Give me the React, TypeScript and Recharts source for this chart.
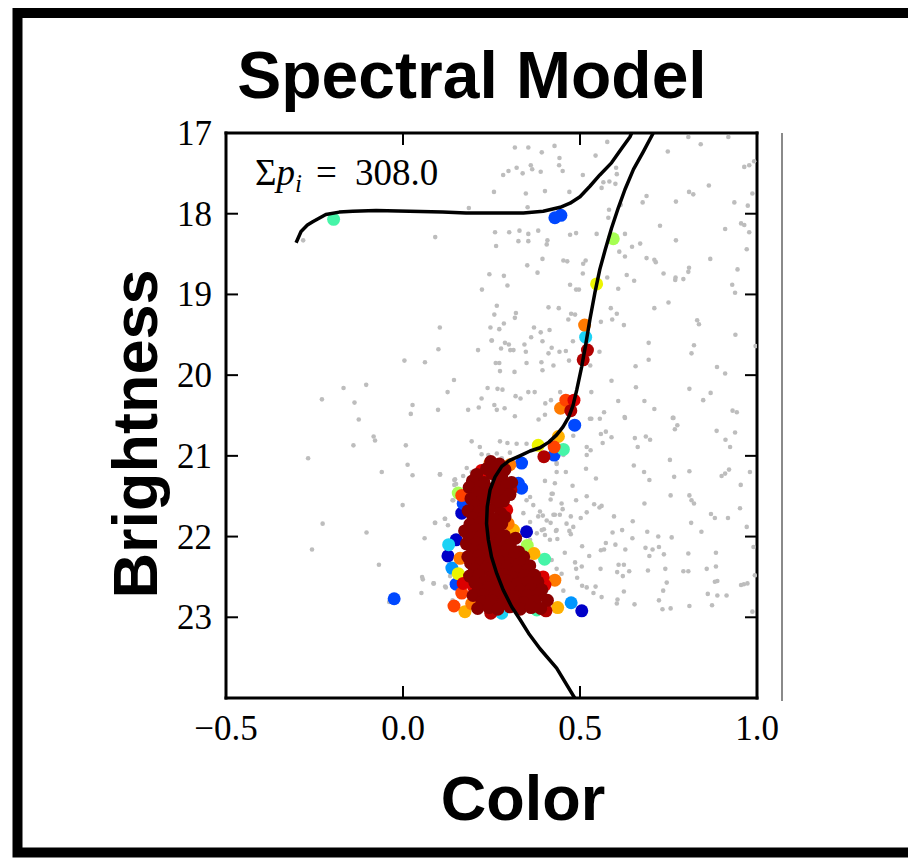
import { ScatterChart, Scatter, XAxis, YAxis } from 'recharts';

// axis ticks
const X_TICKS = [-0.5, 0, 0.5, 1.0];
const Y_TICKS = [17, 18, 19, 20, 21, 22, 23, 24];
const Y_LABELED = [17, 18, 19, 20, 21, 22, 23];

// [color, magnitude]
const FIELD_STARS: [number, number][] = [
  [0.186, 17.93], [0.091, 18.29], [-0.282, 18.33], [0.244, 18.75], [0.223, 18.94], [0.104, 19.41],
  [0.247, 19.41], [0.251, 19.57], [0.100, 19.68], [0.212, 19.69], [0.004, 19.82], [0.062, 19.84],
  [0.144, 20.06], [-0.168, 20.16], [-0.104, 20.12], [0.126, 20.21], [0.239, 20.16], [-0.229, 20.30],
  [-0.137, 20.34], [0.222, 20.29], [0.027, 20.37], [0.022, 20.48], [0.099, 20.43], [0.184, 20.43],
  [0.214, 20.40], [-0.125, 20.55], [0.258, 20.37],
  [0.316, 17.18], [0.354, 17.18], [0.428, 17.16], [0.392, 17.24], [0.577, 17.11], [0.544, 17.28],
  [0.442, 17.31], [0.748, 17.23], [0.841, 17.14], [0.806, 17.05], [0.919, 17.05], [0.283, 17.52],
  [0.298, 17.47], [0.321, 17.43], [0.338, 17.50], [0.361, 17.40], [0.365, 17.45], [0.389, 17.48],
  [0.441, 17.40], [0.451, 17.47], [0.508, 17.52], [0.566, 17.61], [0.583, 17.60], [0.600, 17.63],
  [0.602, 17.43], [0.604, 17.51], [0.561, 17.68], [0.257, 17.73], [0.347, 17.75], [0.401, 17.72],
  [0.470, 17.73], [0.352, 17.92], [0.688, 17.78], [0.677, 17.86], [0.615, 17.89], [0.582, 17.95],
  [0.580, 18.05], [0.808, 17.73], [0.820, 17.76], [0.864, 17.65], [0.771, 17.85], [0.936, 17.86],
  [0.987, 17.75], [0.974, 17.90], [0.978, 17.40], [0.964, 17.42], [0.992, 17.35],
  [0.260, 18.23], [0.300, 18.23], [0.329, 18.21], [0.354, 18.25], [0.382, 18.21], [0.326, 18.34],
  [0.354, 18.34], [0.408, 18.33], [0.406, 18.38], [0.263, 18.40], [0.472, 18.26], [0.489, 18.24],
  [0.547, 18.25], [0.627, 18.25], [0.611, 18.47], [0.627, 18.53], [0.647, 18.41], [0.670, 18.37],
  [0.688, 18.55], [0.710, 18.57], [0.714, 18.60], [0.771, 18.33], [0.726, 18.15], [0.910, 18.19],
  [0.955, 18.12], [0.964, 18.14], [0.978, 18.23], [0.971, 18.44], [0.868, 18.56], [0.808, 18.67],
  [0.806, 18.72], [0.770, 18.79], [0.769, 18.82], [0.792, 18.81], [0.736, 18.74], [0.632, 18.76],
  [0.653, 18.83], [0.608, 18.93], [0.577, 18.79], [0.394, 18.56], [0.453, 18.58], [0.464, 18.59],
  [0.509, 18.62], [0.516, 18.58], [0.351, 18.64], [0.380, 18.73], [0.285, 18.77], [0.295, 18.89],
  [0.472, 18.88], [0.489, 18.94], [0.497, 18.94], [0.508, 18.74], [0.945, 18.69], [0.930, 18.88],
  [0.938, 18.98],
  [0.265, 19.14], [0.258, 19.25], [0.319, 19.23], [0.316, 19.29], [0.285, 19.36], [0.272, 19.43],
  [0.411, 19.16], [0.440, 19.17], [0.475, 19.24], [0.467, 19.31], [0.486, 19.25], [0.559, 19.34],
  [0.587, 19.17], [0.604, 19.24], [0.624, 19.38], [0.591, 19.31], [0.370, 19.41], [0.389, 19.47],
  [0.414, 19.44], [0.362, 19.53], [0.343, 19.62], [0.299, 19.62], [0.288, 19.60], [0.303, 19.69],
  [0.312, 19.69], [0.277, 19.67], [0.347, 19.71], [0.250, 19.57], [0.394, 19.58], [0.420, 19.66],
  [0.411, 19.73], [0.442, 19.71], [0.460, 19.70], [0.480, 19.58], [0.469, 19.82], [0.391, 19.84],
  [0.425, 19.88], [0.394, 19.94], [0.262, 19.85], [0.272, 19.85], [0.349, 19.85], [0.315, 19.96],
  [0.274, 19.95], [0.555, 19.71], [0.529, 19.88], [0.589, 20.07], [0.657, 19.89], [0.694, 19.60],
  [0.694, 19.81], [0.710, 19.17], [0.750, 19.10], [0.822, 19.63], [0.815, 19.73], [0.831, 19.32],
  [0.836, 19.37], [0.887, 19.90], [0.910, 19.98], [0.939, 19.50], [0.996, 19.64], [0.809, 20.17],
  [0.658, 20.15], [0.608, 20.32], [0.532, 20.21], [0.444, 20.21], [0.372, 20.21], [0.354, 20.21],
  [0.418, 20.31], [0.402, 20.35], [0.383, 20.55], [0.318, 20.26], [0.332, 20.29], [0.281, 20.18],
  [0.267, 20.17], [0.265, 20.43], [0.287, 20.41], [0.316, 20.51], [0.401, 20.49], [0.568, 20.46],
  [0.626, 20.52], [0.532, 20.54], [0.556, 20.54], [0.682, 20.32], [0.710, 20.42], [0.762, 20.53],
  [0.848, 20.31], [0.869, 20.22], [0.931, 20.44], [0.943, 20.46],
  [-0.083, 20.76], [-0.079, 20.81], [-0.140, 20.87], [0.008, 20.87], [-0.268, 21.03], [0.013, 21.11],
  [-0.060, 21.20], [0.027, 21.24], [0.104, 21.23], [0.145, 21.30], [0.145, 21.36], [0.140, 21.55],
  [-0.001, 21.61], [-0.227, 21.84], [-0.103, 21.95], [0.091, 21.83], [0.118, 21.78], [0.127, 21.86],
  [0.061, 22.02], [-0.257, 22.16], [-0.068, 22.35], [0.054, 22.50], [0.056, 22.53], [0.087, 22.58],
  [0.121, 22.63], [0.052, 22.70], [0.133, 22.49], [0.140, 22.79], [-0.039, 22.81],
  [0.528, 20.54], [0.627, 20.53], [0.764, 20.53], [0.768, 20.67], [0.775, 20.62], [0.886, 20.69],
  [0.938, 20.71], [0.911, 20.80], [0.924, 20.89], [0.559, 20.73], [0.573, 20.70], [0.589, 20.77],
  [0.564, 20.84], [0.655, 20.78], [0.663, 20.89], [0.686, 20.76], [0.698, 20.80], [0.519, 20.89],
  [0.530, 20.93], [0.519, 20.99], [0.481, 20.75], [0.434, 21.09], [0.434, 21.20], [0.460, 21.20],
  [0.517, 21.16], [0.545, 21.28], [0.479, 21.37], [0.652, 21.12], [0.681, 21.20], [0.696, 21.30],
  [0.754, 21.05], [0.766, 21.26], [0.809, 21.19], [0.900, 21.25], [0.910, 21.22], [0.921, 21.17],
  [0.954, 21.36], [0.980, 21.20], [0.423, 21.47], [0.417, 21.54], [0.489, 21.55], [0.519, 21.50],
  [0.540, 21.60], [0.555, 21.64], [0.561, 21.62], [0.519, 21.70], [0.502, 21.77], [0.451, 21.66],
  [0.443, 21.73], [0.425, 21.73], [0.395, 21.74], [0.417, 21.83], [0.462, 21.84], [0.474, 21.75],
  [0.481, 21.88], [0.432, 21.93], [0.470, 21.93], [0.474, 21.97], [0.398, 21.91], [0.436, 22.03],
  [0.596, 21.75], [0.649, 21.81], [0.682, 21.59], [0.756, 21.49], [0.809, 21.49], [0.815, 21.55],
  [0.822, 21.59], [0.870, 21.72], [0.881, 21.77], [0.918, 21.77], [0.952, 21.65], [0.971, 21.88],
  [0.814, 21.83], [0.843, 21.94], [0.759, 22.01], [0.721, 22.00], [0.690, 21.94], [0.648, 22.02],
  [0.619, 21.92], [0.592, 21.95], [0.573, 22.08], [0.600, 22.10], [0.559, 22.17], [0.568, 22.16],
  [0.526, 22.24], [0.506, 22.12], [0.457, 22.20], [0.486, 22.32], [0.489, 22.40], [0.505, 22.37],
  [0.492, 22.51], [0.628, 22.16], [0.685, 22.14], [0.696, 22.24], [0.705, 22.16], [0.723, 22.13],
  [0.737, 22.22], [0.806, 22.21], [0.884, 22.20], [0.990, 22.13], [0.609, 22.35], [0.624, 22.35],
  [0.605, 22.44], [0.621, 22.49], [0.639, 22.43], [0.558, 22.40], [0.692, 22.42], [0.741, 22.40],
  [0.792, 22.43], [0.806, 22.43], [0.858, 22.40], [0.884, 22.37], [0.506, 22.61], [0.519, 22.63],
  [0.544, 22.62], [0.538, 22.70], [0.561, 22.75], [0.453, 22.67], [0.624, 22.68], [0.606, 22.78],
  [0.604, 22.83], [0.654, 22.84], [0.723, 22.79], [0.735, 22.67], [0.745, 22.57], [0.733, 22.90],
  [0.756, 22.89], [0.809, 22.86], [0.861, 22.71], [0.881, 22.56], [0.888, 22.55], [0.888, 22.73],
  [0.914, 22.73], [0.873, 22.85], [0.955, 22.60], [0.963, 22.59], [0.973, 22.58], [0.987, 22.93],
  [0.994, 22.48],
  [0.222, 20.98], [0.241, 20.99], [0.265, 20.97], [0.279, 21.03], [0.302, 20.96], [0.105, 21.23],
  [0.147, 21.29], [0.150, 21.35], [0.170, 21.25], [0.180, 21.15], [0.194, 21.20], [0.434, 21.10],
  [0.401, 21.31], [0.429, 21.34], [0.420, 21.47], [0.448, 21.59], [0.453, 20.99], [0.359, 21.51],
  [0.349, 21.55], [0.368, 21.61], [0.340, 21.71], [0.387, 21.69], [0.382, 21.75], [0.406, 21.80],
  [0.359, 21.82], [0.429, 21.73], [0.434, 21.92], [0.392, 21.92], [0.378, 21.96], [0.401, 21.98],
  [0.415, 22.04], [0.359, 22.04], [0.090, 21.83], [0.119, 21.78], [0.142, 21.55], [0.086, 22.58],
  [0.119, 22.62], [0.420, 22.29], [0.434, 22.40], [0.448, 22.46], [0.406, 22.66],
  [0.194, 20.82], [0.217, 20.89], [0.274, 20.82], [0.295, 20.84], [0.321, 20.85], [0.349, 20.85],
];

// isochrone, split where it leaves the top of the panel
const ISO_TURNOFF: [number, number][] = [
  [-0.302, 18.36], [-0.288, 18.22], [-0.270, 18.14], [-0.255, 18.10], [-0.218, 18.01], [-0.180, 17.98],
  [-0.142, 17.97], [-0.076, 17.96], [0.018, 17.97], [0.112, 17.98], [0.178, 17.99], [0.263, 17.99],
  [0.340, 17.99], [0.396, 17.97], [0.444, 17.92], [0.472, 17.87], [0.500, 17.79], [0.528, 17.66],
  [0.556, 17.52], [0.589, 17.37], [0.618, 17.19], [0.641, 17.05], [0.646, 17.0],
];
const ISO_MAIN: [number, number][] = [
  [0.707, 17.0], [0.679, 17.23], [0.651, 17.45], [0.627, 17.70], [0.608, 17.93], [0.589, 18.18],
  [0.571, 18.45], [0.556, 18.69], [0.542, 18.98], [0.528, 19.31], [0.517, 19.60], [0.505, 19.89],
  [0.491, 20.18], [0.480, 20.38], [0.468, 20.52], [0.452, 20.64], [0.434, 20.74], [0.412, 20.83],
  [0.387, 20.90], [0.359, 20.94], [0.330, 21.00], [0.300, 21.06], [0.279, 21.13], [0.260, 21.26],
  [0.246, 21.42], [0.238, 21.63], [0.236, 21.84], [0.241, 22.04], [0.250, 22.25], [0.265, 22.46],
  [0.283, 22.66], [0.307, 22.87], [0.331, 23.03], [0.355, 23.20], [0.387, 23.39], [0.434, 23.63],
  [0.485, 24.0],
];

// members, grouped by membership colour
const NAVY: [number, number][] = [[0.127, 22.24], [0.150, 22.04], [0.505, 22.92], [0.166, 21.71], [0.349, 21.94]];
const BLUE: [number, number][] = [
  [0.429, 18.05], [0.446, 18.02], [0.485, 20.62], [0.427, 20.99], [-0.025, 22.77], [0.150, 22.59],
  [0.335, 21.09], [0.326, 21.34], [0.335, 21.40], [0.170, 21.59],
];
const SKY: [number, number][] = [[0.138, 22.39], [0.475, 22.82]];
const CYAN: [number, number][] = [[0.516, 19.53], [0.129, 22.10], [0.279, 22.95]];
const MINT: [number, number][] = [[0.453, 20.92], [0.400, 22.28], [0.378, 22.91], [-0.196, 18.07]];
const LIME: [number, number][] = [[0.594, 18.31], [0.156, 21.46], [0.351, 22.11], [0.208, 22.87]];
const YELLOW: [number, number][] = [[0.547, 18.87], [0.382, 20.87], [0.156, 22.46]];
const AMBER: [number, number][] = [[0.439, 20.76], [0.437, 22.88], [0.312, 21.92], [0.370, 22.21], [0.175, 22.93]];
const ORANGE: [number, number][] = [
  [0.513, 19.38], [0.445, 20.41], [0.429, 22.54], [0.246, 21.09], [0.302, 21.11], [0.297, 21.84],
  [0.161, 22.27], [0.194, 22.83],
];
const ORANGE_RED: [number, number][] = [[0.460, 20.31], [0.427, 20.89], [0.144, 22.86], [0.166, 21.49], [0.166, 22.70]];
const RED: [number, number][] = [
  [0.483, 20.31], [0.401, 22.60], [0.222, 21.18], [0.227, 21.26], [0.293, 21.67], [0.170, 22.58],
  [0.199, 22.62], [0.396, 22.50],
];
const CRIMSON: [number, number][] = [
  [0.521, 19.69], [0.509, 19.81], [0.474, 20.44], [0.398, 21.01], [0.404, 22.92], [0.305, 21.42],
  [0.318, 22.44], [0.372, 22.62], [0.248, 22.95], [0.215, 21.62],
];
const MAROON: [number, number][] = [
  [0.248, 21.07], [0.272, 21.10], [0.236, 21.16], [0.262, 21.14], [0.288, 21.17], [0.208, 21.23],
  [0.251, 21.22], [0.279, 21.25], [0.196, 21.31], [0.229, 21.33], [0.268, 21.30], [0.307, 21.33],
  [0.187, 21.39], [0.218, 21.38], [0.252, 21.41], [0.291, 21.37], [0.209, 21.46], [0.241, 21.47],
  [0.272, 21.44], [0.302, 21.48], [0.192, 21.53], [0.224, 21.55], [0.258, 21.52], [0.284, 21.56],
  [0.203, 21.61], [0.233, 21.63], [0.266, 21.60], [0.184, 21.68], [0.214, 21.70], [0.243, 21.67],
  [0.276, 21.71], [0.198, 21.77], [0.229, 21.75], [0.259, 21.79], [0.288, 21.76], [0.189, 21.85],
  [0.218, 21.83], [0.251, 21.86], [0.279, 21.84], [0.174, 21.93], [0.203, 21.91], [0.236, 21.94],
  [0.268, 21.92], [0.186, 22.01], [0.219, 22.00], [0.252, 22.03], [0.287, 21.99], [0.318, 22.02],
  [0.179, 22.09], [0.208, 22.08], [0.241, 22.10], [0.273, 22.07], [0.303, 22.11], [0.197, 22.17],
  [0.229, 22.15], [0.262, 22.18], [0.294, 22.16], [0.327, 22.19], [0.183, 22.25], [0.214, 22.24],
  [0.246, 22.26], [0.281, 22.23], [0.312, 22.27], [0.341, 22.25], [0.191, 22.33], [0.221, 22.32],
  [0.243, 22.35], [0.272, 22.31], [0.302, 22.34], [0.331, 22.33], [0.358, 22.36], [0.202, 22.41],
  [0.233, 22.40], [0.264, 22.43], [0.293, 22.39], [0.322, 22.42], [0.352, 22.41], [0.188, 22.49],
  [0.214, 22.48], [0.249, 22.50], [0.282, 22.47], [0.313, 22.51], [0.343, 22.49], [0.372, 22.48],
  [0.203, 22.57], [0.232, 22.56], [0.263, 22.58], [0.291, 22.55], [0.322, 22.59], [0.354, 22.57],
  [0.381, 22.56], [0.213, 22.65], [0.242, 22.63], [0.271, 22.66], [0.303, 22.64], [0.333, 22.67],
  [0.362, 22.65], [0.392, 22.66], [0.198, 22.73], [0.228, 22.72], [0.259, 22.74], [0.289, 22.71],
  [0.319, 22.75], [0.351, 22.73], [0.383, 22.71], [0.223, 22.81], [0.252, 22.80], [0.281, 22.83],
  [0.312, 22.79], [0.343, 22.82], [0.372, 22.80], [0.408, 22.79], [0.211, 22.89], [0.243, 22.88],
  [0.268, 22.90], [0.302, 22.87], [0.331, 22.90], [0.362, 22.88], [0.389, 22.89],
];

const MEMBER_GROUPS: { name: string; color: string; pts: [number, number][] }[] = [
  { name: 'navy', color: '#0000c8', pts: NAVY },
  { name: 'blue', color: '#0048ff', pts: BLUE },
  { name: 'sky', color: '#0096ff', pts: SKY },
  { name: 'cyan', color: '#1cd2f5', pts: CYAN },
  { name: 'mint', color: '#46f5a8', pts: MINT },
  { name: 'lime', color: '#a6ff52', pts: LIME },
  { name: 'yellow', color: '#ecf400', pts: YELLOW },
  { name: 'amber', color: '#ffb000', pts: AMBER },
  { name: 'orange', color: '#ff7a00', pts: ORANGE },
  { name: 'orangered', color: '#ff4200', pts: ORANGE_RED },
  { name: 'red', color: '#dc0000', pts: RED },
  { name: 'crimson', color: '#b00000', pts: CRIMSON },
  { name: 'maroon', color: '#880000', pts: MAROON },
];

const toPts = (arr: [number, number][]) => arr.map(([c, m]) => ({ c, m }));

const SERIF = '"Liberation Serif", "DejaVu Serif", serif';
const SANS = '"Liberation Sans", Arial, sans-serif';
const TICK_LEN = 12;

const fmtX = (v: number) => (v < 0 ? '\u2212' : '') + Math.abs(v).toFixed(1);

function BottomTick({ x, y, payload }: any) {
  return (
    <g>
      <line x1={x} x2={x} y1={y} y2={y - TICK_LEN} stroke="#000" strokeWidth={2} />
      <text x={x} y={y + 42} textAnchor="middle" fontFamily={SERIF} fontSize={35} fill="#000">
        {fmtX(payload.value)}
      </text>
    </g>
  );
}

function TopTick({ x, y }: any) {
  return <line x1={x} x2={x} y1={y} y2={y + TICK_LEN} stroke="#000" strokeWidth={2} />;
}

function LeftTick({ x, y, payload }: any) {
  return (
    <g>
      <line x1={x} x2={x + TICK_LEN} y1={y} y2={y} stroke="#000" strokeWidth={2} />
      {Y_LABELED.includes(payload.value) && (
        <text x={x - 14} y={y + 12} textAnchor="end" fontFamily={SERIF} fontSize={35} fill="#000">
          {payload.value}
        </text>
      )}
    </g>
  );
}

function RightTick({ x, y }: any) {
  return <line x1={x} x2={x - TICK_LEN} y1={y} y2={y} stroke="#000" strokeWidth={2} />;
}

const dot = (r: number, fill: string) => (p: any) => <circle cx={p.cx} cy={p.cy} r={r} fill={fill} />;
const noDot = () => <g />;

const spine = { stroke: '#000', strokeWidth: 3, strokeLinecap: 'square' as const };
const isoLine = { stroke: '#000', strokeWidth: 3.5, fill: 'none', strokeLinejoin: 'round' as const };

export default function App() {
  return (
    <div style={{ position: 'absolute', left: 0, top: 0, width: 908, height: 858, background: '#fff' }}>
      <ScatterChart width={908} height={858} margin={{ top: 132, right: 150, left: 166, bottom: 120 }}>
        <XAxis
          type="number"
          dataKey="c"
          domain={[-0.5, 1.0]}
          ticks={X_TICKS}
          interval={0}
          allowDataOverflow
          height={40}
          tickSize={0}
          tickMargin={0}
          tickLine={false}
          axisLine={spine}
          tick={<BottomTick />}
        />
        <XAxis
          xAxisId="top"
          orientation="top"
          type="number"
          dataKey="c"
          domain={[-0.5, 1.0]}
          ticks={X_TICKS}
          interval={0}
          allowDataOverflow
          height={1}
          tickSize={0}
          tickMargin={0}
          tickLine={false}
          axisLine={spine}
          tick={<TopTick />}
        />
        <YAxis
          type="number"
          dataKey="m"
          domain={[17, 24]}
          reversed
          ticks={Y_TICKS}
          interval={0}
          allowDataOverflow
          width={60}
          tickSize={0}
          tickMargin={0}
          tickLine={false}
          axisLine={spine}
          tick={<LeftTick />}
        />
        <YAxis
          yAxisId="right"
          orientation="right"
          type="number"
          dataKey="m"
          domain={[17, 24]}
          reversed
          ticks={Y_TICKS}
          interval={0}
          allowDataOverflow
          width={1}
          tickSize={0}
          tickMargin={0}
          tickLine={false}
          axisLine={spine}
          tick={<RightTick />}
        />
        <Scatter name="field" data={toPts(FIELD_STARS)} shape={dot(2.3, '#bdbdbd')} isAnimationActive={false} />
        {MEMBER_GROUPS.map((g) => (
          <Scatter key={g.name} name={g.name} data={toPts(g.pts)} shape={dot(6.5, g.color)} isAnimationActive={false} />
        ))}
        <Scatter
          name="iso-turnoff"
          data={toPts(ISO_TURNOFF)}
          fill="none"
          line={isoLine}
          lineType="joint"
          shape={noDot}
          isAnimationActive={false}
        />
        <Scatter
          name="iso-main"
          data={toPts(ISO_MAIN)}
          fill="none"
          line={isoLine}
          lineType="joint"
          shape={noDot}
          isAnimationActive={false}
        />
      </ScatterChart>

      <svg width={908} height={858} style={{ position: 'absolute', left: 0, top: 0, pointerEvents: 'none' }}>
        <path d="M 912 13 H 17.5 V 852.5 H 912" fill="none" stroke="#000" strokeWidth={10} />
        <line x1={782} x2={782} y1={133} y2={701} stroke="#8a8a8a" strokeWidth={2} />
        <text x={472} y={98} textAnchor="middle" fontFamily={SANS} fontWeight="bold" fontSize={66} fill="#000">
          Spectral Model
        </text>
        <text
          x={157}
          y={434}
          transform="rotate(-90 157 434)"
          textAnchor="middle"
          fontFamily={SANS}
          fontWeight="bold"
          fontSize={63}
          fill="#000"
        >
          Brightness
        </text>
        <text x={523} y={820} textAnchor="middle" fontFamily={SANS} fontWeight="bold" fontSize={63} fill="#000">
          Color
        </text>
        <text x={255} y={185} fontFamily={SERIF} fontSize={37} fill="#000">
          Σ<tspan fontStyle="italic">p</tspan>
          <tspan fontStyle="italic" fontSize={25} dy={7}>i</tspan>
          <tspan dy={-7} dx={14}>=</tspan>
          <tspan dx={18}>308.0</tspan>
        </text>
      </svg>
    </div>
  );
}
